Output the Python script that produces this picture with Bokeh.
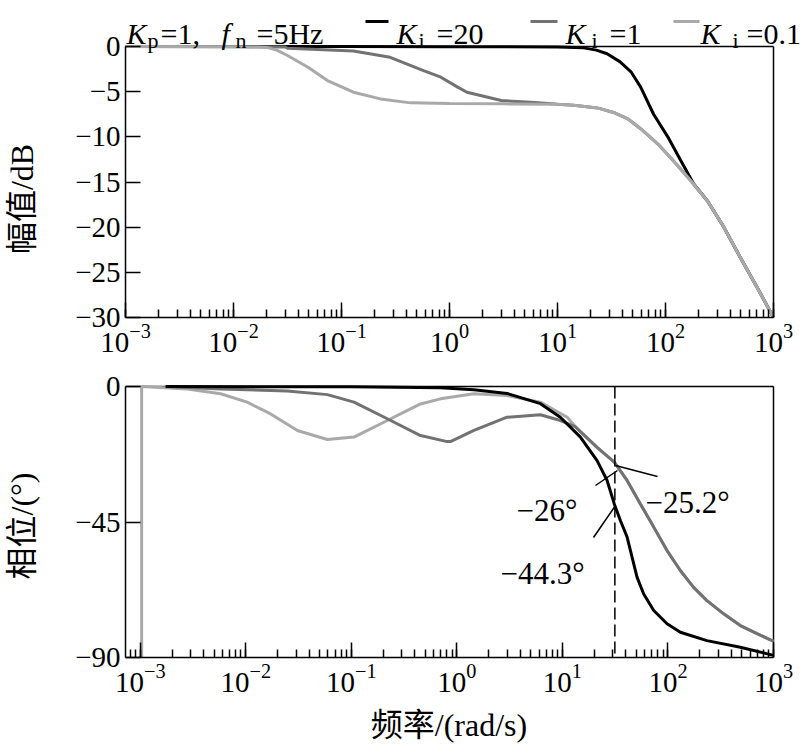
import math
from bokeh.plotting import figure
from bokeh.layouts import column
from bokeh.models import FixedTicker, Label
from bokeh.embed import file_html
from bokeh.resources import INLINE

# ---------------- data ----------------
# Magnitude (dB)
mag_ki20_f = [0.001, 0.1, 1, 10, 17.4, 22.9, 28.8, 38.0, 47.9, 58.9, 77.6, 105, 138, 182, 245, 347, 490, 708, 1000]
mag_ki20_db = [0, 0, -0.02, -0.05, -0.15, -0.4, -0.8, -1.7, -2.8, -4.5, -7.5, -10.0, -12.6, -15.2, -17.1, -20.0, -23.3, -26.7, -30]

mag_ki1_f = [0.001, 0.03, 0.0316, 0.129, 0.282, 0.575, 0.832, 1.19, 1.45, 3.02, 6.17, 10,
             14.1, 23.4, 33.1, 44.7, 58.9, 85.1, 117, 170, 245, 347, 490, 708, 1000]
mag_ki1_db = [0, -0.05, -0.2, -0.5, -1.2, -2.66, -3.4, -4.5, -5.06, -5.98, -6.2, -6.4,
              -6.5, -6.8, -7.3, -8.0, -9.1, -10.8, -12.6, -14.8, -17.1, -20.0, -23.3, -26.7, -30]

mag_ki01_f = [0.001, 0.01, 0.0204, 0.0251, 0.0316, 0.049, 0.0741, 0.129, 0.229, 0.437, 1, 3.16, 10,
              14.1, 23.4, 33.1, 44.7, 58.9, 85.1, 117, 170, 245, 347, 490, 708, 1000]
mag_ki01_db = [0, -0.02, -0.1, -0.4, -1.0, -2.3, -3.77, -5.06, -5.8, -6.24, -6.3, -6.35, -6.4,
               -6.5, -6.8, -7.3, -8.0, -9.1, -10.8, -12.6, -14.8, -17.1, -20.0, -23.3, -26.7, -30]

# Phase (deg)
ph_ki20_f = [0.00174, 0.1, 0.70, 1.45, 2.99, 6.19, 9.55, 14.8, 21.3, 26.5, 31.0, 35.4, 41.0, 45.7,
             50.9, 58.9, 73.3, 98.0, 131, 234, 485, 1000]
ph_ki20_deg = [0, -0.1, -0.4, -1.1, -2.3, -5.7, -10.2, -16.8, -24.6, -31.2, -39.0, -44.5, -50.0, -56.7,
               -63.3, -68.9, -74.4, -78.8, -81.6, -84.4, -86.6, -89.3]

ph_ki1_f = [0.00174, 0.00577, 0.0247, 0.0592, 0.106, 0.219, 0.452, 0.809, 0.869, 1.45, 2.99, 6.19, 9.57,
            13.2, 14.8, 21.3, 31.0, 41.0, 54.8, 73.3, 98.0, 131, 175, 234, 337, 485, 698, 1000]
ph_ki1_deg = [0, -0.8, -1.5, -2.7, -5.2, -10.7, -16.3, -18.3, -18.3, -14.6, -10.2, -9.4, -11.3,
              -13.3, -15.0, -20.2, -25.1, -31.2, -39.0, -46.7, -54.5, -61.1, -66.7, -71.1, -75.5, -79.4, -82.1, -84.6]

ph_ki01_f = [0.00103, 0.00103, 0.00279, 0.00577, 0.0103, 0.0172, 0.0308, 0.0592, 0.106, 0.219, 0.452, 0.70,
             1.45, 2.99, 6.19, 11.1,
             13.2, 14.8, 21.3, 31.0, 41.0, 54.8, 73.3, 98.0, 131, 175, 234, 337, 485, 698, 1000]
ph_ki01_deg = [-90, 0, -0.8, -2.4, -5.2, -9.1, -14.6, -17.6, -16.8, -11.3, -5.8, -4.1,
               -2.4, -3.0, -5.2, -10.2,
               -13.3, -15.0, -20.2, -25.1, -31.2, -39.0, -46.7, -54.5, -61.1, -66.7, -71.1, -75.5, -79.4, -82.1, -84.6]

mag_ticks = [0, -5, -10, -15, -20, -25, -30]
ph_ticks = [0, -45, -90]
freq_end = 1e3
mag_span = (-30, 0)
ph_span = (-90, 0)
marker_freq = 31.4  # 5 Hz in rad/s
ann_texts = ["\u221226\u00b0", "\u221225.2\u00b0", "\u221244.3\u00b0"]
legend_labels = ["=20", "=1", "=0.1"]

C_BLACK = "#000000"
C_DARK = "#727272"
C_LIGHT = "#a9a9a9"

SERIF = "Liberation Serif"
MIXED = "Liberation Serif, Noto Sans CJK SC"

W = 804
L_B, R_B = 125, 31
FW = W - L_B - R_B  # 648 px for the visible box

def minus(v):
    return str(v).replace("-", "\u2212")

def style_axis(ax):
    ax.axis_line_width = 1.5
    ax.major_tick_line_width = 1.5
    ax.minor_tick_line_width = 1.5
    ax.major_tick_in = 15
    ax.major_tick_out = 0
    ax.minor_tick_in = 8
    ax.minor_tick_out = 0
    ax.major_label_text_font = SERIF
    ax.major_label_text_font_size = "29px"
    ax.major_label_text_color = "black"
    ax.axis_label_text_font = MIXED
    ax.axis_label_text_font_size = "32px"
    ax.axis_label_text_font_style = "normal"
    ax.axis_label_text_color = "black"

def style(p, yt):
    p.xgrid.visible = False
    p.ygrid.visible = False
    p.outline_line_color = None
    p.background_fill_color = "white"
    p.border_fill_color = "white"
    p.yaxis.ticker = FixedTicker(ticks=yt)
    p.yaxis.major_label_overrides = {t: minus(t) for t in yt}
    style_axis(p.xaxis[0])
    style_axis(p.yaxis[0])
    p.yaxis.minor_tick_line_color = None
    p.yaxis.major_label_standoff = 5
    p.xaxis.major_label_standoff = 6
    p.yaxis.axis_label_standoff = 32

def box_edges(p, x0, x1, ylo, yhi):
    # top and right edges of the visible box (left/bottom are the axes)
    p.segment(x0=[x0], y0=[yhi], x1=[x1], y1=[yhi], line_color="black", line_width=1.5)
    p.segment(x0=[x1], y0=[ylo], x1=[x1], y1=[yhi], line_color="black", line_width=1.5)

def add_text(p, fb, px, py, text, size="30px", italic=False, font=SERIF, align="left",
             baseline="alphabetic", color="black"):
    p.add_layout(Label(x=px - L_B, y=fb - py, x_units="screen", y_units="screen", text=text,
                       text_font=font, text_font_size=size,
                       text_font_style="italic" if italic else "normal", text_align=align,
                       text_baseline=baseline, text_color=color))

# ---------------- top: magnitude ----------------
# Frames fill the canvas to the top and right so that texts can live inside them;
# the visible box is drawn with bounded axes and two edge segments.
TOP_H = 370
FB1 = 317          # canvas y of frame bottom
FT1 = 46           # canvas y of the 0 dB line
DEC1 = FW / 6.0
Y_TOP1 = FT1 * 30.0 / (FB1 - FT1)
X_END1 = 10 ** (3 + R_B / DEC1)
p1 = figure(width=W, height=TOP_H, x_axis_type="log", x_range=(1e-3, X_END1), y_range=(-30, Y_TOP1),
            output_backend="svg", toolbar_location=None,
            min_border_left=L_B, min_border_right=0, min_border_top=0, min_border_bottom=TOP_H - FB1)
style(p1, mag_ticks)
p1.yaxis.bounds = mag_span
p1.xaxis.bounds = (1e-3, freq_end)
p1.yaxis.axis_label = "幅值/dB\u3000\u3000\u00a0\u00a0"
box_edges(p1, 1e-3, freq_end, *mag_span)

p1.line(mag_ki20_f, mag_ki20_db, line_color=C_BLACK, line_width=3)
p1.line(mag_ki1_f, mag_ki1_db, line_color=C_DARK, line_width=3)
p1.line(mag_ki01_f, mag_ki01_db, line_color=C_LIGHT, line_width=3)

def top_xy(px, py):
    return 10 ** ((px - L_B) / DEC1 - 3), -(py - FT1) * 30.0 / (FB1 - FT1)

# parameter / legend row
add_text(p1, FB1, 126, 33, "K", italic=True)
add_text(p1, FB1, 147, 40, "p", size="22px")
add_text(p1, FB1, 160, 33, "=1,")
add_text(p1, FB1, 221, 33, "f", italic=True)
add_text(p1, FB1, 235, 40, "n", size="22px")
add_text(p1, FB1, 256, 33, "=5Hz")

leg_cols = [C_BLACK, C_DARK, C_LIGHT]
leg_dash = [(365, 388), (530, 557), (673, 699)]
leg_k = [396, 565, 700]
leg_i = [418, 591, 732]
leg_eq = [436, 609, 746]
for col, (a, b), k, i, eq, lab in zip(leg_cols, leg_dash, leg_k, leg_i, leg_eq, legend_labels):
    xa, ya = top_xy(a, 21)
    xb, yb = top_xy(b, 21)
    p1.segment(x0=[xa], y0=[ya], x1=[xb], y1=[yb], line_color=col, line_width=3)
    add_text(p1, FB1, k, 33, "K", italic=True)
    add_text(p1, FB1, i, 40, "i", size="22px")
    add_text(p1, FB1, eq, 33, lab)

# ---------------- bottom: phase ----------------
BOT_H = 753 - TOP_H
OFF = TOP_H
FT2 = 386 - OFF    # canvas y (in p2) of the 0 deg line
FB2 = 657 - OFF    # canvas y (in p2) of frame bottom
X0_BOT = -3.14
DEC2 = FW / (3 - X0_BOT)
X_END2 = 10 ** (3 + R_B / DEC2)
Y_TOP2 = FT2 * 90.0 / (FB2 - FT2)
p2 = figure(width=W, height=BOT_H, x_axis_type="log", x_range=(10 ** X0_BOT, X_END2),
            y_range=(-90, Y_TOP2), output_backend="svg", toolbar_location=None,
            min_border_left=L_B, min_border_right=0, min_border_top=0,
            min_border_bottom=BOT_H - FB2)
style(p2, ph_ticks)
p2.yaxis.bounds = ph_span
p2.xaxis.bounds = (10 ** X0_BOT, freq_end)
p2.yaxis.axis_label = "相位/(°)\u00a0\u00a0\u00a0"
p2.xaxis.axis_label = "频率/(rad/s)\u3000"
p2.xaxis.axis_label_standoff = 12
box_edges(p2, 10 ** X0_BOT, freq_end, *ph_span)

def bot_xy(px, py):
    return 10 ** ((px - L_B) / DEC2 + X0_BOT), -(py - 386) * 90.0 / 271.0

p2.line(ph_ki01_f, ph_ki01_deg, line_color=C_LIGHT, line_width=3)
p2.line(ph_ki1_f, ph_ki1_deg, line_color=C_DARK, line_width=3)
p2.line(ph_ki20_f, ph_ki20_deg, line_color=C_BLACK, line_width=3)

p2.segment(x0=[marker_freq], y0=[ph_span[1]], x1=[marker_freq], y1=[ph_span[0]], line_color="black",
           line_width=1.5, line_dash="12 5")

# annotations with leader lines
leaders = [((595, 485), (617, 470)), ((615, 465), (657, 476)), ((593, 537), (615, 505))]
for (a, b) in leaders:
    xa, ya = bot_xy(*a)
    xb, yb = bot_xy(*b)
    p2.segment(x0=[xa], y0=[ya], x1=[xb], y1=[yb], line_color="black", line_width=1.5)
add_text(p2, FB2 + OFF, 516, 510, ann_texts[0], size="31px")
add_text(p2, FB2 + OFF, 645, 502, ann_texts[1], size="31px")
add_text(p2, FB2 + OFF, 500, 573, ann_texts[2], size="31px")

layout = column(p1, p2, spacing=0)
open("out.html", "w").write(file_html(layout, INLINE))
